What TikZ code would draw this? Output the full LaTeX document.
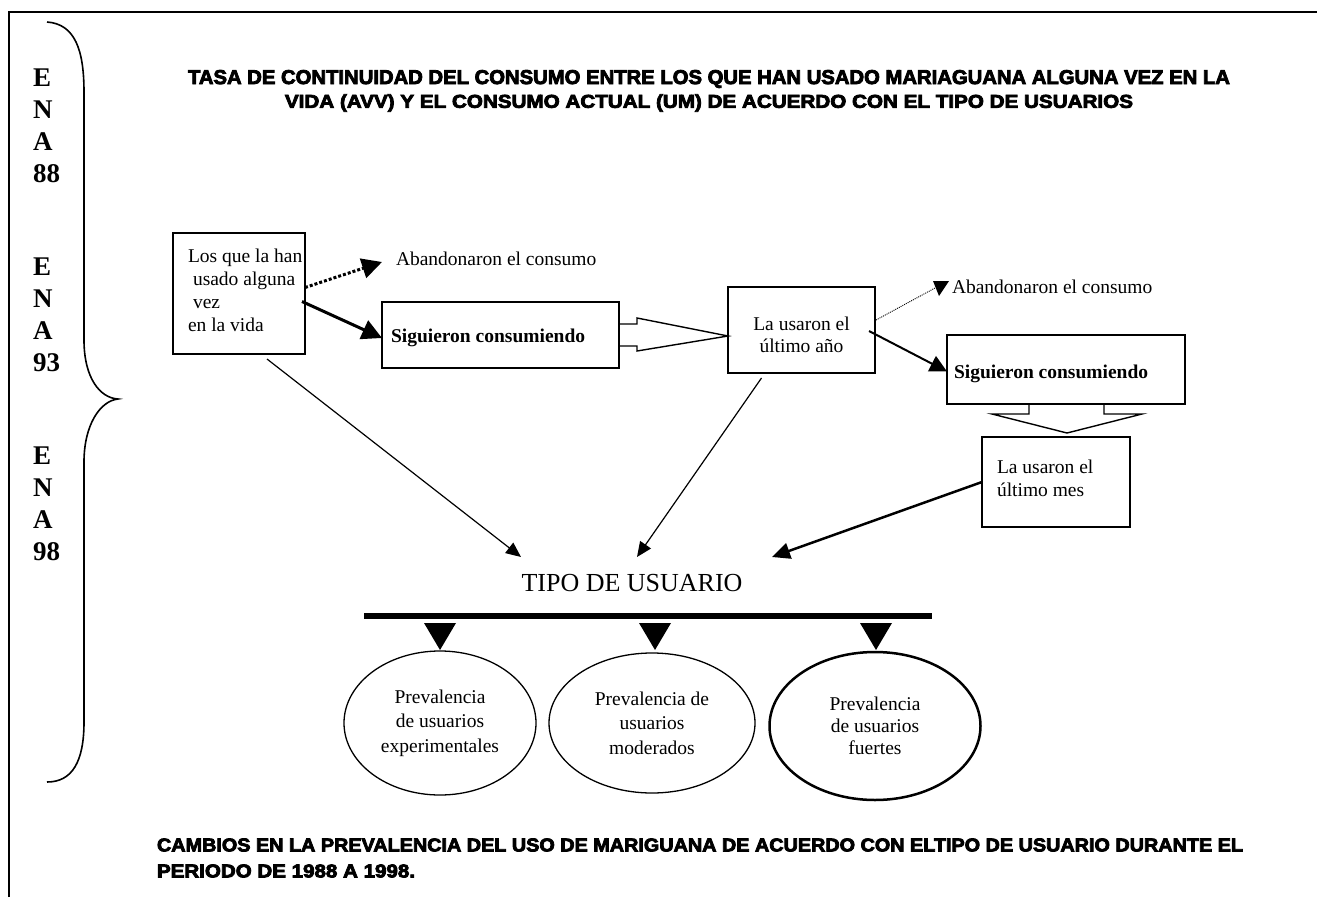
\documentclass[tikz,border=0pt]{standalone}
\usepackage{fontspec}
\setmainfont{Liberation Serif}
\newfontfamily\titlefont{Liberation Sans}[BoldFeatures={FakeBold=4}]
\usepackage{graphicx}
\usetikzlibrary{arrows.meta,calc,shapes.geometric}
\begin{document}
\begin{tikzpicture}[x=1pt,y=-1pt,
  every node/.style={inner sep=0pt,outer sep=0pt},
  serif/.style={font=\fontsize{19.5}{23}\selectfont},
  boldtxt/.style={font=\fontsize{19.5}{23}\selectfont\bfseries},
  thinbox/.style={draw,line width=1.2pt,anchor=north west},
  midbox/.style={draw,line width=1.6pt,anchor=north west},
  thickbox/.style={draw,line width=2.4pt,anchor=north west},
  ena/.style={font=\fontsize{27}{32}\selectfont\bfseries,anchor=base west,align=left},
  oval/.style={draw,ellipse,line width=1.3pt,align=center,font=\fontsize{19.5}{24.5}\selectfont},
  bigtip/.style={-{Triangle[length=20pt,width=20pt]}},
  midtip/.style={-{Triangle[length=17pt,width=17pt]}},
  smalltip/.style={-{Triangle[length=15pt,width=13pt]}},
  blockarrow/.style={draw,line width=1.4pt,line join=miter},
]
\useasboundingbox (0,0) rectangle (1317,897);

% frame (top and left)
\draw[line width=2.4pt] (9,897) -- (9,12) -- (1317,12);

% braces
\draw[line width=1.6pt] (47,22) .. controls (75,24) and (84,50) .. (84,92) -- (84,340)
  .. controls (84,378) and (100,398) .. (118,399)
  .. controls (100,401) and (84,425) .. (84,462) -- (84,722)
  .. controls (84,762) and (72,782) .. (47,782);

% ENA labels (base anchor = last line)
\node[ena] (ena88) at (33,182) {E\\N\\A\\88};
\node[ena] (ena93) at (33,371) {E\\N\\A\\93};
\node[ena] (ena98) at (33,560) {E\\N\\A\\98};

% titles
\node (title1) at (709,79) {\resizebox{1042pt}{14pt}{\titlefont\bfseries TASA DE CONTINUIDAD DEL CONSUMO ENTRE LOS QUE HAN USADO MARIAGUANA ALGUNA VEZ EN LA}};
\node (title2) at (709,103) {\resizebox{848pt}{13.5pt}{\titlefont\bfseries VIDA (AVV) Y EL CONSUMO ACTUAL (UM) DE ACUERDO CON EL TIPO DE USUARIOS}};
\node[anchor=west] (foot1) at (157,845) {\resizebox{1086pt}{13pt}{\titlefont\bfseries CAMBIOS EN LA PREVALENCIA DEL USO DE MARIGUANA DE ACUERDO CON ELTIPO DE USUARIO DURANTE EL}};
\node[anchor=west] (foot2) at (157,871) {\resizebox{258pt}{13pt}{\titlefont\bfseries PERIODO DE 1988 A 1998.}};

% box 1
\node[thinbox, minimum width=132pt, minimum height=121pt] (b1) at (173,233) {};
\node[serif, anchor=base west, align=left] (b1t) at (188,331) {Los que la han\\\hspace*{5pt}usado alguna\\\hspace*{5pt}vez\\en la vida};

% abandonaron 1
\coordinate (ab1tip) at (382,262);
\node[serif, anchor=base west] (ab1) at (396,265) {Abandonaron el consumo};
\draw[line width=3pt, dash pattern=on 3pt off 2pt, bigtip] ($(b1.east)+(0,-6)$) -- (ab1tip);

% siguieron 1
\node[midbox, minimum width=237pt, minimum height=66pt] (s1) at (382,302) {};
\node[boldtxt, anchor=base west] (s1t) at (391,342) {Siguieron consumiendo};
\draw[line width=3pt, bigtip] ($(b1.east)+(-3,8)$) -- ($(s1.west)+(0,3)$);

% la usaron el ultimo año
\node[thickbox, minimum width=147pt, minimum height=86pt] (a1) at (728,287) {};
\node[anchor=base, align=center, font=\fontsize{19.5}{22}\selectfont] (a1t) at (801.5,352) {La usaron el\\último año};

% block arrow s1 -> a1
\draw[blockarrow] ($(s1.east)+(0,-11)$) -- ++(18,0) -- ++(0,-6) -- ($(a1.west)+(0,6)$)
  -- ($(s1.east)+(18,16)$) -- ++(0,-5) -- ($(s1.east)+(0,11)$);

% abandonaron 2
\coordinate (ab2tip) at (935,288);
\node[serif, anchor=base west] (ab2) at (952,293) {Abandonaron el consumo};
\draw[line width=0.9pt, dash pattern=on 1pt off 1pt] ($(a1.east)+(1,-10)$) -- (ab2tip);
\fill ($(ab2tip)+(-2,-7)$) -- ($(ab2tip)+(14,-7)$) -- ($(ab2tip)+(4,8)$) -- cycle;

% siguieron 2
\node[thickbox, minimum width=238pt, minimum height=69pt] (s2) at (947,335) {};
\node[boldtxt, anchor=base west] (s2t) at (954,378) {Siguieron consumiendo};
\draw[line width=2pt, midtip] ($(a1.east)+(-6,1)$) -- ($(s2.west)+(0,2)$);

% la usaron el ultimo mes
\node[thickbox, minimum width=148pt, minimum height=90pt] (m1) at (982,437) {};
\node[serif, anchor=base west, align=left] (m1t) at (997,496) {La usaron el\\último mes};

% block arrow s2 -> m1
\draw[blockarrow] ($(s2.south)+(-37,0)$) -- ++(0,10) -- ($(s2.south)+(-74,10)$)
  -- ($(s2.south)+(1,29)$) -- ($(s2.south)+(76,10)$) -- ($(s2.south)+(38,10)$) -- ($(s2.south)+(38,0)$);

% tipo de usuario
\node[font=\fontsize{26}{30}\selectfont] (tipo) at (632,583) {TIPO DE USUARIO};
\coordinate (tA) at (521,557);
\coordinate (tB) at (637,557);
\coordinate (tC) at (772,557);
\draw[line width=1.2pt, smalltip] ($(b1.south)+(28,5)$) -- (tA);
\draw[line width=1.2pt, smalltip] ($(a1.south)+(-40,5)$) -- (tB);
\draw[line width=2.5pt, -{Triangle[length=18pt,width=16pt]}] (m1.west) -- (tC);

% bar
\node[fill, minimum width=568pt, minimum height=5.5pt] (bar) at (648,616) {};

% ellipses
\node[oval, minimum width=192pt, minimum height=144pt] (e1) at (440,723) {Prevalencia\\de usuarios\\experimentales};
\node[oval, minimum width=206pt, minimum height=140pt] (e2) at (652,723) {Prevalencia de\\usuarios\\moderados};
\node[oval, line width=2.5pt, minimum width=211pt, minimum height=148pt, font=\fontsize{19.5}{22}\selectfont] (e3) at (875,726) {Prevalencia\\de usuarios\\fuertes};

% triangles from bar to ellipses
\fill ($(e1.north)+(-16,-28)$) -- ($(e1.north)+(16,-28)$) -- ($(e1.north)+(0,-1)$) -- cycle;
\fill ($(e2.north)+(-13,-30)$) -- ($(e2.north)+(19,-30)$) -- ($(e2.north)+(3,-3)$) -- cycle;
\fill ($(e3.north)+(-15,-29)$) -- ($(e3.north)+(17,-29)$) -- ($(e3.north)+(1,-2)$) -- cycle;
\end{tikzpicture}
\end{document}
